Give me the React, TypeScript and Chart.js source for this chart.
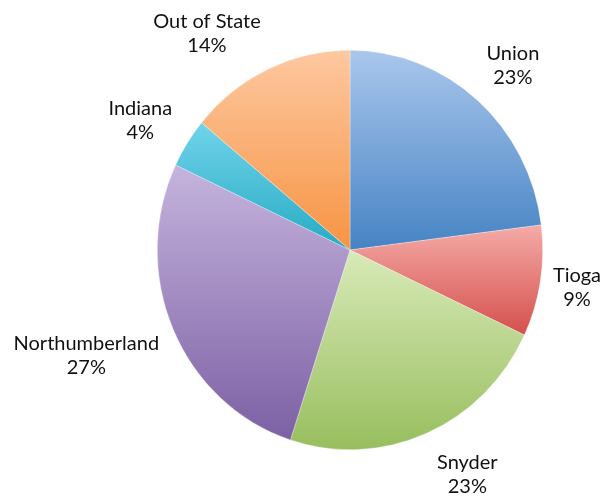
import React, { useEffect, useRef } from "react";
import { Chart, registerables } from "chart.js";

Chart.register(...registerables);

const categories = ["Union", "Tioga", "Snyder", "Northumberland", "Indiana", "Out of State"];
const shares = [23, 9, 23, 27, 4, 14];
const percentLabels = ["23%", "9%", "23%", "27%", "4%", "14%"];
const topColors = ["#aac7ec", "#f5aba7", "#d8eab8", "#c5b4dd", "#70d4ea", "#fdc8a0"];
const bottomColors = ["#4683c4", "#d4504d", "#98be5e", "#7c60a4", "#27aac4", "#f79443"];
const labelNudges = [
  [10, -8],
  [1, 1],
  [24, 8],
  [-9, 12],
  [-10, -3],
  [-33, -3],
];

const Y_SCALE = 200 / 193;
const FONT = "20px Lato";
const LINE_H = 24;

function sliceExtent(el: any) {
  const { x, y, startAngle, endAngle, outerRadius } = el;
  let ymin = y;
  let ymax = y;
  const steps = 60;
  for (let k = 0; k <= steps; k++) {
    const a = startAngle + ((endAngle - startAngle) * k) / steps;
    const py = y + outerRadius * Math.sin(a);
    ymin = Math.min(ymin, py);
    ymax = Math.max(ymax, py);
  }
  return { ymin, ymax };
}

const ellipsePlugin = {
  id: "ellipseGradient",
  beforeDatasetsDraw(chart: any) {
    const ctx = chart.ctx;
    const meta = chart.getDatasetMeta(0);
    meta.data.forEach((el: any, i: number) => {
      const { ymin, ymax } = sliceExtent(el);
      const g = ctx.createLinearGradient(0, ymin, 0, ymax);
      g.addColorStop(0, topColors[i]);
      g.addColorStop(1, bottomColors[i]);
      el.options.backgroundColor = g;
    });
    const el0 = meta.data[0];
    ctx.save();
    ctx.translate(el0.x, el0.y);
    ctx.scale(1, Y_SCALE);
    ctx.translate(-el0.x, -el0.y);
  },
  afterDatasetsDraw(chart: any) {
    const ctx = chart.ctx;
    ctx.restore();
    const meta = chart.getDatasetMeta(0);
    ctx.save();
    ctx.font = FONT;
    ctx.fillStyle = "#111";
    ctx.textAlign = "center";
    ctx.textBaseline = "middle";
    meta.data.forEach((el: any, i: number) => {
      const a = (el.startAngle + el.endAngle) / 2;
      const ux = Math.cos(a);
      const uy = Math.sin(a);
      const r = el.outerRadius;
      const px = el.x + r * ux;
      const py = el.y + r * Y_SCALE * uy;
      const w = Math.max(ctx.measureText(categories[i]).width, ctx.measureText(percentLabels[i]).width);
      const h = LINE_H * 2;
      const gap = 12;
      const cx = px + ux * (w / 2 + gap) + labelNudges[i][0];
      const cy = py + uy * (h / 2 + gap) + labelNudges[i][1];
      ctx.fillText(categories[i], cx, cy - LINE_H / 2);
      ctx.fillText(percentLabels[i], cx, cy + LINE_H / 2);
    });
    ctx.restore();
  },
};

export default function App() {
  const ref = useRef<HTMLCanvasElement | null>(null);
  useEffect(() => {
    if (!ref.current) return;
    const chart = new Chart(ref.current, {
      type: "pie",
      data: {
        labels: categories,
        datasets: [
          {
            data: shares,
            backgroundColor: bottomColors,
            borderColor: "rgba(255,255,255,0.5)",
            borderWidth: 0.6,
          },
        ],
      },
      options: {
        responsive: false,
        animation: false,
        layout: { padding: { left: 157, right: 60, top: 57, bottom: 55 } },
        plugins: { legend: { display: false }, tooltip: { enabled: false } },
      },
      plugins: [ellipsePlugin],
    });
    return () => chart.destroy();
  }, []);
  return (
    <canvas
      ref={ref}
      width={603}
      height={498}
      style={{ position: "absolute", left: 0, top: 0, width: 603, height: 498 }}
    />
  );
}
